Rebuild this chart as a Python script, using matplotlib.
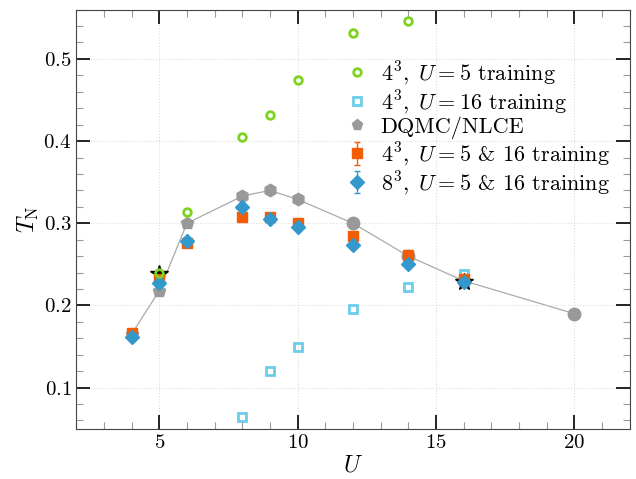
import matplotlib
matplotlib.use("Agg")
import matplotlib.pyplot as plt
from matplotlib.ticker import MultipleLocator

plt.rcParams['font.family'] = 'serif'
plt.rcParams['font.serif'] = ['cmr10']
plt.rcParams['mathtext.fontset'] = 'cm'
plt.rcParams['axes.formatter.use_mathtext'] = True
plt.rcParams['axes.unicode_minus'] = False

# 4^3, U=5 training
u_train5 = [5, 6, 8, 9, 10, 12, 14]
t_train5 = [0.240, 0.314, 0.405, 0.432, 0.474, 0.531, 0.546]

# 4^3, U=16 training
u_train16 = [8, 9, 10, 12, 14, 16]
t_train16 = [0.064, 0.120, 0.150, 0.196, 0.222, 0.238]

# DQMC / NLCE reference
u_dqmc = [4, 5, 6]
t_dqmc = [0.165, 0.218, 0.300]
u_dqmc2 = [8, 9, 10]
t_dqmc2 = [0.333, 0.340, 0.329]
u_nlce = [12, 14, 16, 20]
t_nlce = [0.300, 0.260, 0.230, 0.190]

# 4^3, U=5 & 16 training
u_l4 = [4, 5, 6, 8, 9, 10, 12, 14, 16]
t_l4 = [0.166, 0.232, 0.276, 0.308, 0.308, 0.300, 0.284, 0.261, 0.232]
e_l4 = [0.002, 0.002, 0.002, 0.002, 0.002, 0.002, 0.002, 0.002, 0.002]

# 8^3, U=5 & 16 training
u_l8 = [4, 5, 6, 8, 9, 10, 12, 14, 16]
t_l8 = [0.162, 0.227, 0.278, 0.320, 0.305, 0.295, 0.273, 0.251, 0.229]
e_l8 = [0.002, 0.002, 0.002, 0.002, 0.002, 0.002, 0.002, 0.002, 0.002]

# training points
u_star = [5, 16]
t_star = [0.238, 0.229]

fig, ax = plt.subplots(figsize=(6.36, 4.79), dpi=100)

gray = '#999999'
ax.plot(u_dqmc + u_dqmc2 + u_nlce, t_dqmc + t_dqmc2 + t_nlce, '-', color='#aaaaaa', lw=0.9, zorder=1)
ax.plot(u_dqmc, t_dqmc, 'p', color=gray, ms=9, zorder=2)
ax.plot(u_dqmc2, t_dqmc2, 'h', color=gray, ms=9, zorder=2)
ax.plot(u_nlce, t_nlce, 'o', color=gray, ms=9, zorder=2)
ax.plot(u_star, t_star, '*', color='k', ms=13, zorder=3)

l_green, = ax.plot(u_train5, t_train5, 'o', mfc='none', mec='#7ed321', mew=2, ms=5.5, zorder=7)
l_sq, = ax.plot(u_train16, t_train16, 's', mfc='none', mec='#6ccde8', mew=2, ms=6, zorder=4)
l_gray, = ax.plot([], [], 'p', color=gray, ms=8)
e4 = ax.errorbar(u_l4, t_l4, yerr=e_l4, fmt='s', color='#f25c05', ms=7, capsize=2, elinewidth=1, zorder=5)
e8 = ax.errorbar(u_l8, t_l8, yerr=e_l8, fmt='D', color='#3399cc', ms=7, capsize=2, elinewidth=1, zorder=6)

ax.legend([l_green, l_sq, l_gray, e4, e8],
          [r'$4^3,\ U=5$ training', r'$4^3,\ U=16$ training', 'DQMC/NLCE',
           r'$4^3,\ U=5$ & $16$ training', r'$8^3,\ U=5$ & $16$ training'],
          loc='upper right', bbox_to_anchor=(1.0, 0.93), frameon=False, fontsize=16,
          handlelength=0.8, handletextpad=0.65, labelspacing=0.05)

ax.set_xlim(2, 22)
ax.set_ylim(0.05, 0.56)
ax.xaxis.set_major_locator(MultipleLocator(5))
ax.xaxis.set_minor_locator(MultipleLocator(1))
ax.yaxis.set_major_locator(MultipleLocator(0.1))
ax.yaxis.set_minor_locator(MultipleLocator(0.02))
ax.tick_params(which='both', direction='in', top=True, right=True, labelsize=15)
ax.tick_params(which='major', length=10, width=1.2, color='k')
ax.tick_params(which='minor', length=5, width=0.8, color='#999999')
ax.grid(True, which='major', linestyle=':', color='#dddddd', lw=0.8)
for s in ax.spines.values():
    s.set_color('#444444')

ax.set_xlabel(r'$U$', fontsize=17, labelpad=2)
ax.set_ylabel(r'$T_{\rm N}$', fontsize=17, labelpad=2)

fig.subplots_adjust(left=0.12, right=0.99, top=0.98, bottom=0.105)
fig.savefig('out.png', dpi=100)
